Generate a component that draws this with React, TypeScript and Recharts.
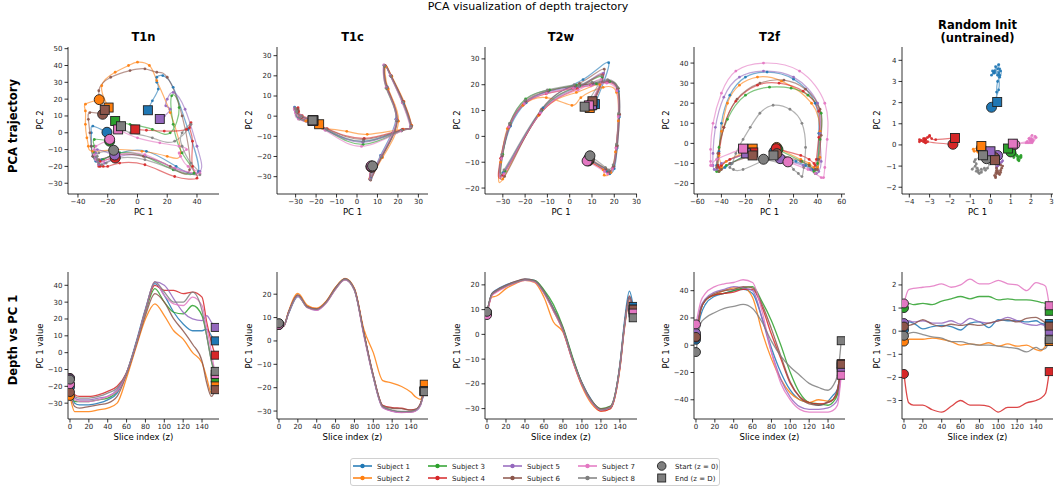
import React from "react";
import { ComposedChart, Line, Scatter, XAxis, YAxis } from "recharts";

const SUBJECTS = ["Subject 1", "Subject 2", "Subject 3", "Subject 4", "Subject 5", "Subject 6", "Subject 7", "Subject 8"];
const COLORS = ["#1f77b4", "#ff7f0e", "#2ca02c", "#d62728", "#9467bd", "#8c564b", "#e377c2", "#7f7f7f"];
const MODALITIES = ["T1n", "T1c", "T2w", "T2f", "Random Init\n(untrained)"];

// slice indices the values were read at
const Z = [0, 5, 10, 20, 30, 40, 50, 60, 70, 80, 90, 100, 110, 120, 130, 140, 145, 150, 154];

// one row per subject
const T1N_PC1 = [
  [-20.5, -30, -31, -31, -30, -28, -24, -12, 6, 26, 41, 34, 24, 17, 13, 13, 14, 10, 7],
  [-25.7, -35, -35, -35, -34, -33, -30, -15, 3, 20, 29, 22, 13, 8, 0, -6, -15, -24, -19.4],
  [-18.7, -29, -29, -29, -28, -27, -23, -12, 5, 24, 38, 30, 24, 23, 28, 22, 10, -5, -15],
  [-15, -25, -26, -26, -25, -23, -20, -12, 5, 25, 40, 37, 37, 35, 36, 33, 18, 6, -1.5],
  [-15.3, -27, -28, -28, -27, -26, -22, -12, 5, 25, 42, 40, 32, 24, 20, 19, 22, 18, 15],
  [-23.4, -32, -33, -32, -31, -30, -26, -13, 4, 22, 35, 30, 20, 13, 5, -5, -18, -26, -22],
  [-18.7, -28, -29, -29, -28, -26, -23, -12, 5, 25, 42, 34, 29, 28, 33, 28, 15, 0, -13],
  [-16, -26, -27, -27, -26, -24, -21, -12, 5, 25, 42, 36, 30, 30, 36, 25, 10, -5, -11.1],
];
const T1N_PC2 = [
  [0.3, 4, 0, -8, -14, -17, -16, -12, -11, -20, -23, 2, 27, 34, 33, 30, 26, 19, 13.4],
  [19.7, 17, 13, 5, -3, -8, -11, -10, -11, -14, -12, 12, 31, 40, 42, 40, 36, 28, 15],
  [-5, -4, -8, -12, -15, -17, -16, -12, -14, -22, -24, -12, 5, 22, 15, 0, 2, 5, 7],
  [-15, -17, -19, -20, -20, -20, -20, -18, -19, -26, -27, -20, -5, 3, 6, 2, 1, 1.5, 2],
  [-13.2, -10, -12, -15, -17, -19, -18, -14, -14, -21, -23, -8, 14, 24, 20, 16, 14, 10, 8.2],
  [11, 12, 8, 0, -8, -14, -16, -13, -14, -20, -22, 10, 33, 36, 38, 37, 33, 25, 13.6],
  [-3.9, -8, -10, -13, -16, -18, -17, -13, -13, -21, -24, -20, -14, -12, -10, -8, -6, -3, 2],
  [-10.4, -12, -14, -16, -18, -19, -18, -15, -16, -22, -25, -18, -8, 0, 5, -5, -3, 0, 3.9],
];

const T1C_PC1 = [
  [7.2, 6.8, 11.5, 19, 14.8, 13.2, 16.8, 22.8, 26.2, 21.8, 3.2, -15.5, -28.5, -30, -30.5, -30.2, -29.8, -27.5, -21.6],
  [7.4, 6.2, 12.5, 20.3, 15.3, 14, 17, 23, 26.8, 22.5, 5, -5, -17, -18, -19.5, -22, -24, -25, -18.5],
  [7, 6.4, 11.8, 19.3, 14.3, 13.4, 16.3, 22.2, 26.3, 21.7, 3, -15.2, -28.2, -29.8, -30.4, -30.3, -29.6, -27.2, -21.4],
  [6.8, 6.6, 12.2, 19.6, 14.7, 13.7, 16.6, 22.6, 26.6, 22.2, 3.5, -14.6, -27.5, -28.5, -28.8, -29.5, -29.2, -26.8, -21.3],
  [7.1, 6.3, 11.9, 19.4, 14.4, 13.3, 16.4, 22.3, 26.4, 21.9, 2.8, -15.3, -28.3, -29.9, -30.6, -30.4, -29.7, -27.3, -21.5],
  [7.3, 6.7, 12.1, 19.7, 14.6, 13.6, 16.7, 22.7, 26.7, 22.1, 3.3, -14.8, -27.8, -28.8, -29, -29.6, -29.3, -26.9, -21.4],
  [6.9, 6.5, 11.7, 19.2, 14.2, 13.1, 16.2, 22.1, 26.1, 21.6, 2.2, -15.6, -28.6, -30.1, -30.7, -30.5, -29.9, -27.6, -21.7],
  [7.6, 6.6, 12, 19.5, 14.5, 13.5, 16.5, 22.5, 26.5, 22, 3, -15, -28, -29.6, -30.2, -30.1, -29.5, -27.1, -21.7],
];
const T1C_PC2 = [
  [-25.2, -31, -19.5, -1.5, 14.5, 25.3, 19.5, 6.5, -5.2, -6.8, -12.5, -6.8, -1.2, 2.5, 4.5, 3.8, 2.6, -0.2, -2.2],
  [-24.8, -31.2, -20.5, -2.5, 13.5, 24.6, 19.8, 7.2, -4.6, -6.5, -9, -7.5, -6, -5, -4, -3, -2, -2.5, -4],
  [-25, -31.4, -20.2, -2.2, 13.8, 24.8, 20.2, 6.8, -5.4, -7.3, -14, -6.8, -1.4, 1.8, 3.8, 3.2, 2.2, -0.3, -2.2],
  [-25.1, -31.6, -19.8, -1.8, 14.2, 25.2, 20, 7.3, -4.8, -6.6, -11, -6.2, -0.8, 2.2, 4.2, 3.6, 2.4, 0.2, -2],
  [-24.9, -31.3, -20.1, -2.1, 14.1, 25.1, 19.9, 6.9, -5.1, -7.1, -13, -6.6, -1.1, 2.1, 4.1, 3.4, 2.5, 0.1, -2.1],
  [-25.3, -31.7, -20.3, -2.3, 13.9, 24.9, 20.1, 7.1, -4.9, -6.9, -11.5, -6.4, -0.6, 2.8, 3.5, 2.5, 1.8, -0.5, -2.3],
  [-24.7, -31.2, -19.7, -1.7, 14.3, 25.4, 20.3, 6.6, -5.3, -7.4, -15, -7, -1.5, 1.6, 3.6, 3.1, 2.1, -0.4, -2.3],
  [-24.7, -31.5, -20, -2, 14, 25, 20, 7, -5, -7, -12.5, -6.5, -1, 2, 4, 3.5, 2.5, 0, -2.1],
];

const T2W_PC1 = [
  [8.6, 16.5, 18, 20, 21.3, 22.3, 21.8, 17.5, 10.5, 2.5, -9.5, -19.5, -26.5, -30.5, -29.8, -12, 6, 17.5, 11.3],
  [8.4, 15, 15.5, 18.5, 20.5, 21.8, 21, 15, 5, 1, -10.5, -21, -28, -31, -30, -14, 3, 13.5, 9],
  [8.7, 16.2, 17.6, 19.6, 21.1, 22, 21.8, 18, 12, 3, -9, -19.8, -26.8, -30, -29, -12.5, 4.5, 14.5, 9.8],
  [8.3, 15.8, 17.3, 19.4, 20.9, 22.1, 21.4, 16.8, 9.5, 1.5, -10.5, -20.5, -27.3, -31, -30, -13.5, 3.5, 14.8, 10.2],
  [8.5, 16.1, 17.7, 19.7, 21.2, 22.2, 21.6, 17.2, 10.2, 2.2, -9.8, -19.9, -26.9, -30.4, -29.4, -12.8, 4.2, 15.2, 10],
  [8.8, 16.3, 17.8, 19.8, 21.4, 22.4, 21.7, 17.3, 10.3, 2.3, -9.7, -19.7, -26.7, -30.2, -29.2, -12.6, 4.4, 15.5, 10.2],
  [7.8, 15.6, 17, 19.2, 20.8, 21.8, 21.2, 16.6, 9.6, 1.6, -10.4, -20.4, -27.4, -30.6, -29.6, -13.2, 3.8, 14, 8.6],
  [9.1, 16, 17.5, 19.5, 21, 22, 21.5, 17, 10, 2, -10, -20, -27, -30.5, -29.5, -13, 4, 14.5, 6.7],
];
const T2W_PC2 = [
  [-8.5, -13.5, -14.5, -12.5, -4.5, 7.5, 17.5, 21.5, 20.5, 19.5, 17.5, 13, 4, -8, -14, 11, 22, 28.5, 12.5],
  [-9.5, -13, -15, -14, -6, 6, 17, 19, 15, 12, 15, 12, 3, -10, -16.5, 8, 17, 20, 11],
  [-9.2, -12.5, -13.5, -11.5, -3.5, 8.5, 18.5, 21.2, 20.3, 19.8, 18, 14.5, 5, -7, -13.5, 10, 19.5, 23, 12],
  [-9.3, -13.2, -14.2, -12.2, -4.2, 8.2, 18.2, 21, 19.8, 18.6, 16.5, 12.5, 3.5, -8.5, -15, 8.5, 18.5, 24, 12.3],
  [-8.8, -12.8, -13.8, -11.8, -3.8, 8.3, 18.3, 21.3, 20.2, 19.2, 17.2, 13.2, 4.2, -7.8, -14.2, 9.5, 19.2, 24.5, 12.2],
  [-8.6, -12.6, -13.6, -11.6, -3.6, 8.6, 18.6, 21.6, 20.6, 19.6, 17.6, 13.6, 4.6, -7.6, -15.5, 10.5, 20.5, 26, 13.6],
  [-9.5, -13.6, -14.6, -12.6, -4.6, 7.6, 17.6, 20.6, 19.6, 18.6, 16.6, 12.6, 3.6, -8.6, -14.6, 9, 18, 22, 12],
  [-7.5, -12, -13, -11, -3, 9, 19, 22, 21, 20, 18, 14, 5, -7, -13, 10, 19.5, 23.5, 11.5],
];

const T2F_PC1 = [
  [4, 22, 30, 36, 38, 40, 41, 38, 20, -2, -20, -33, -40, -42, -44, -41, -37, -32, -16],
  [6, 26, 33, 37, 40, 42, 42, 35, 10, -10, -25, -35, -40, -42, -40, -41, -40, -36, -14],
  [7, 27, 33, 37, 38, 40, 42, 43, 32, 18, 0, -20, -35, -42, -43, -44, -42, -36, -15],
  [5.6, 26, 33, 37, 38, 39, 41, 41, 28, 8, -10, -28, -38, -42, -43, -42, -40, -33, -13.5],
  [8.9, 28, 34, 39, 41, 43, 42, 40, 20, -5, -25, -38, -45, -47, -47, -46, -44, -40, -19.4],
  [6.1, 26, 33, 38, 40, 41, 43, 42, 30, 12, -8, -27, -38, -43, -44, -42, -40, -33, -14],
  [15.3, 32, 38, 43, 45, 46, 48, 46, 25, -5, -28, -40, -47, -49, -49, -49, -48, -44, -22],
  [-5, 16, 20, 24, 27, 28.5, 30, 27, 17, 3, -8, -16, -22, -28, -31, -33, -30, -22, 3.3],
];
const T2F_PC2 = [
  [-4, -9, -11, -13, -13, -8, 5, 20, 32, 35.5, 33, 24, 10, -4, -11, -13, -12, -10, -4.5],
  [-2, -8, -10, -12, -12, -7, 6, 20, 31, 33, 29, 20, 6, -6, -11, -13, -12, -9, -2.6],
  [-3, -9, -11, -14, -15, -10, 2, 15, 24, 27.5, 28, 24, 12, -2, -11, -14, -14, -11, -5],
  [-2.6, -6, -8, -10, -11, -8, 3, 16, 26, 30, 29, 21, 8, -5, -11, -12, -11, -8, -4.5],
  [-7.6, -11, -13, -15, -14, -9, 5, 20, 33, 36, 33, 23, 8, -5, -11, -13, -13, -10, -5],
  [-5.1, -9, -11, -13, -13, -8, 4, 17, 27, 31.5, 30, 22, 8, -5, -12, -14, -13, -10, -6],
  [-9.2, -13, -15, -17, -17, -12, 2, 20, 36, 40, 36, 25, 10, -3, -9, -11, -11, -8, -2.6],
  [-7.9, -11, -13, -15, -16.5, -12, -2, 10, 17, 19, 15, 8, 2, -5, -10, -12, -13, -13, -6],
];

const RAND_PC1 = [
  [0.05, 0.4, 0.35, 0.1, 0.2, 0.25, 0.2, 0.05, 0.35, 0.4, 0.15, 0.5, 0.45, 0.45, 0.4, 0.45, 0.35, 0.3, 0.33],
  [-0.45, -0.35, -0.35, -0.35, -0.3, -0.35, -0.45, -0.6, -0.55, -0.6, -0.5, -0.65, -0.55, -0.65, -0.6, -0.8, -0.85, -0.65, -0.45],
  [1.0, 1.2, 1.15, 1.2, 1.15, 1.3, 1.4, 1.5, 1.4, 1.5, 1.5, 1.35, 1.4, 1.35, 1.35, 1.3, 1.25, 1.2, 0.86],
  [-1.85, -3.1, -3.2, -3.2, -3.4, -3.5, -3.25, -3.0, -3.2, -3.2, -3.25, -3.5, -3.3, -3.3, -3.1, -3.0, -2.9, -2.7, -1.75],
  [0.35, 0.45, 0.4, 0.45, 0.35, 0.35, 0.45, 0.3, 0.55, 0.4, 0.35, 0.45, 0.6, 0.45, 0.3, 0.25, 0.3, 0.2, 0.0],
  [0.2, 0.25, 0.3, 0.5, 0.3, 0.2, 0.3, 0.25, 0.3, 0.25, 0.35, 0.45, 0.5, 0.4, 0.55, 0.6, 0.5, 0.35, 0.22],
  [1.2, 1.8, 1.85, 1.9, 1.95, 2.05, 1.9, 2.0, 2.25, 2.05, 2.05, 2.2, 2.05, 2.0, 1.75, 2.1, 2.05, 1.95, 1.1],
  [-0.2, -0.1, -0.05, -0.15, -0.25, -0.3, -0.45, -0.45, -0.55, -0.6, -0.6, -0.65, -0.7, -0.75, -0.9, -0.7, -0.8, -0.75, -0.37],
];
const RAND_PC2 = [
  [1.78, 2.6, 3.3, 3.5, 3.4, 3.7, 3.5, 3.3, 3.6, 3.8, 3.4, 3.5, 3.2, 3.6, 3.4, 3.3, 3.0, 2.5, 2.03],
  [-0.15, -0.2, -0.1, -0.3, -0.2, -0.35, -0.25, -0.3, -0.15, -0.35, -0.25, -0.2, -0.4, -0.3, -0.2, -0.3, -0.2, -0.15, -0.05],
  [-0.33, -0.4, -0.5, -0.45, -0.6, -0.5, -0.7, -0.55, -0.75, -0.6, -0.5, -0.65, -0.55, -0.7, -0.6, -0.5, -0.45, -0.35, -0.17],
  [0.03, 0.15, 0.25, 0.1, 0.2, 0.15, 0.3, 0.45, 0.25, 0.1, 0.2, 0.25, 0.15, 0.3, 0.35, 0.4, 0.3, 0.25, 0.33],
  [-0.5, -0.6, -0.75, -0.9, -0.7, -1.0, -0.85, -1.05, -0.8, -0.95, -0.7, -0.9, -0.75, -0.6, -0.8, -0.65, -0.55, -0.45, -0.3],
  [-0.6, -0.9, -1.1, -1.3, -1.2, -1.45, -1.3, -1.55, -1.35, -1.5, -1.25, -1.4, -1.2, -1.35, -1.1, -1.0, -0.95, -0.85, -0.72],
  [0.02, 0.15, 0.1, 0.3, 0.2, 0.45, 0.3, 0.2, 0.35, 0.1, 0.25, 0.4, 0.15, 0.3, 0.1, 0.2, 0.15, 0.1, 0.06],
  [-0.65, -0.8, -0.9, -1.1, -1.2, -1.1, -1.3, -1.15, -1.35, -1.2, -1.3, -1.1, -1.25, -1.0, -1.15, -0.9, -0.8, -0.7, -0.49],
];

const PC1_SETS = [T1N_PC1, T1C_PC1, T2W_PC1, T2F_PC1, RAND_PC1];
const PC2_SETS = [T1N_PC2, T1C_PC2, T2W_PC2, T2F_PC2, RAND_PC2];

const TOP_X_DOMAINS = [[-46.7, 54.8], [-39.1, 34.7], [-38, 30.2], [-62.8, 62.8], [-4.36, 3.08]];
const TOP_Y_DOMAINS = [[-36.4, 51], [-38.6, 34.3], [-22.3, 34.6], [-25.2, 48], [-2.32, 4.63]];
const TOP_X_TICKS = [
  [-40, -20, 0, 20, 40],
  [-30, -20, -10, 0, 10, 20, 30],
  [-30, -20, -10, 0, 10, 20, 30],
  [-60, -40, -20, 0, 20, 40, 60],
  [-4, -3, -2, -1, 0, 1, 2, 3],
];
const TOP_Y_TICKS = [
  [-30, -20, -10, 0, 10, 20, 30, 40, 50],
  [-30, -20, -10, 0, 10, 20, 30],
  [-20, -10, 0, 10, 20, 30],
  [-20, -10, 0, 10, 20, 30, 40],
  [-2, -1, 0, 1, 2, 3, 4],
];
const BOT_X_DOMAIN = [-2.1, 158];
const BOT_X_TICKS = [0, 20, 40, 60, 80, 100, 120, 140];
const BOT_Y_DOMAINS = [[-39.4, 47.9], [-33.4, 29.5], [-34.2, 25.2], [-54.1, 53.7], [-3.8, 2.56]];
const BOT_Y_TICKS = [
  [-30, -20, -10, 0, 10, 20, 30, 40],
  [-30, -20, -10, 0, 10, 20],
  [-30, -20, -10, 0, 10, 20],
  [-40, -20, 0, 20, 40],
  [-3, -2, -1, 0, 1, 2],
];

const PANEL_LEFT = [68, 277, 485, 694, 902];
const PANEL_RIGHT = [219, 428, 637, 845, 1053];
const TOP_Y0 = 47;
const TOP_Y1 = 194;
const BOT_Y0 = 272;
const BOT_Y1 = 419;
const YLABEL_X = [41, 250, 458, 667, 878];

const FONT = "DejaVu Sans, sans-serif";
const YW = 32;
const XH = 20;
const MT = 4;
const MR = 8;

const fmt = (v: number) => (v < 0 ? `\u2212${Math.abs(v)}` : `${v}`);

const tickStyle = { fontSize: 7, fill: "#262626", fontFamily: FONT };
const axisStroke = { stroke: "#000", strokeWidth: 0.8 };

function startShape(color: string, r: number) {
  return (props: any) => (
    <circle cx={props.cx} cy={props.cy} r={r} fill={color} stroke="#222" strokeWidth={0.9} />
  );
}
function endShape(color: string, s: number) {
  return (props: any) => (
    <rect x={props.cx - s / 2} y={props.cy - s / 2} width={s} height={s} fill={color} stroke="#222" strokeWidth={0.9} />
  );
}

function Panel({ idx, row }: { idx: number; row: "top" | "bottom" }) {
  const top = row === "top";
  const y0 = top ? TOP_Y0 : BOT_Y0;
  const y1 = top ? TOP_Y1 : BOT_Y1;
  const w = PANEL_RIGHT[idx] - PANEL_LEFT[idx];
  const h = y1 - y0;
  const pc1 = PC1_SETS[idx];
  const pc2 = PC2_SETS[idx];
  const series = SUBJECTS.map((_, s) =>
    Z.map((z, i) => (top ? { x: pc1[s][i], y: pc2[s][i] } : { x: z, y: pc1[s][i] }))
  );
  const last = Z.length - 1;
  return (
    <div style={{ position: "absolute", left: PANEL_LEFT[idx] - YW, top: y0 - MT }}>
      <ComposedChart
        width={w + YW + MR}
        height={h + MT + XH}
        margin={{ top: MT, right: MR, bottom: 0, left: 0 }}
      >
        <XAxis
          type="number"
          dataKey="x"
          domain={top ? TOP_X_DOMAINS[idx] : BOT_X_DOMAIN}
          ticks={top ? TOP_X_TICKS[idx] : BOT_X_TICKS}
          allowDataOverflow
          height={XH}
          tickSize={3.5}
          tickMargin={2}
          tick={tickStyle}
          axisLine={axisStroke}
          tickLine={axisStroke}
          tickFormatter={fmt}
          interval={0}
        />
        <YAxis
          type="number"
          dataKey="y"
          domain={top ? TOP_Y_DOMAINS[idx] : BOT_Y_DOMAINS[idx]}
          ticks={top ? TOP_Y_TICKS[idx] : BOT_Y_TICKS[idx]}
          allowDataOverflow
          width={YW}
          tickSize={3.5}
          tickMargin={2}
          tick={tickStyle}
          axisLine={axisStroke}
          tickLine={axisStroke}
          tickFormatter={fmt}
          interval={0}
        />
        {series.map((d, s) => (
          <Line
            key={`l${s}`}
            data={d}
            dataKey="y"
            type={top ? "natural" : "monotone"}
            stroke={COLORS[s]}
            strokeWidth={top ? 1.2 : 1.3}
            strokeOpacity={top ? 0.6 : 0.85}
            dot={top ? { r: 1.4, fill: COLORS[s], stroke: "none", fillOpacity: 0.9 } : false}
            activeDot={false}
            isAnimationActive={false}
          />
        ))}
        {series.map((d, s) => (
          <Scatter
            key={`s${s}`}
            data={[d[0]]}
            shape={startShape(COLORS[s], top ? 5 : 4.5)}
            isAnimationActive={false}
          />
        ))}
        {series.map((d, s) => (
          <Scatter
            key={`e${s}`}
            data={[d[last]]}
            shape={endShape(COLORS[s], top ? 9 : 8)}
            isAnimationActive={false}
          />
        ))}
      </ComposedChart>
    </div>
  );
}

function Txt({ x, y, size, bold, rotate, children }: any) {
  return (
    <div
      style={{
        position: "absolute",
        left: x,
        top: y,
        transform: `translate(-50%, -50%)${rotate ? " rotate(-90deg)" : ""}`,
        fontSize: size,
        fontWeight: bold ? "bold" : "normal",
        whiteSpace: "pre",
        textAlign: "center",
        lineHeight: 1.15,
        color: "#000",
        fontFamily: FONT,
      }}
    >
      {children}
    </div>
  );
}

function Legend() {
  const L = 350;
  const T = 458;
  const cols = [353, 428, 503, 578];
  const rows = [466, 478];
  const fs = 7;
  return (
    <div
      style={{
        position: "absolute",
        left: L,
        top: T,
        width: 370,
        height: 28,
        border: "1px solid #d0d0d0",
        borderRadius: 3,
        boxSizing: "border-box",
      }}
    >
      <svg width={370} height={28} style={{ position: "absolute", left: -1, top: -1, overflow: "visible" }}>
        {SUBJECTS.map((name, s) => {
          const cx = cols[Math.floor(s / 2)] - L;
          const cy = rows[s % 2] - T;
          return (
            <g key={name}>
              <line x1={cx} x2={cx + 19} y1={cy} y2={cy} stroke={COLORS[s]} strokeWidth={1.5} />
              <circle cx={cx + 9.5} cy={cy} r={2.2} fill={COLORS[s]} />
              <text x={cx + 24} y={cy + 2.5} fontSize={fs} fontFamily={FONT} fill="#222">
                {name}
              </text>
            </g>
          );
        })}
        <circle cx={661.7 - L} cy={rows[0] - T} r={4.3} fill="#7f7f7f" stroke="#222" strokeWidth={0.9} />
        <text x={675 - L} y={rows[0] - T + 2.5} fontSize={fs} fontFamily={FONT} fill="#222">
          Start (z = 0)
        </text>
        <rect x={661.7 - L - 4} y={rows[1] - T - 4} width={8} height={8} fill="#7f7f7f" stroke="#222" strokeWidth={0.9} />
        <text x={675 - L} y={rows[1] - T + 2.5} fontSize={fs} fontFamily={FONT} fill="#222">
          End (z = D)
        </text>
      </svg>
    </div>
  );
}

export default function App() {
  const centers = PANEL_LEFT.map((l, i) => (l + PANEL_RIGHT[i]) / 2);
  return (
    <div
      style={{
        position: "absolute",
        left: 0,
        top: 0,
        width: 1056,
        height: 490,
        background: "#fff",
        fontFamily: FONT,
        overflow: "hidden",
      }}
    >
      <Txt x={528} y={7} size={11}>PCA visualization of depth trajectory</Txt>
      {MODALITIES.map((m, i) => (
        <Txt key={m} x={centers[i]} y={i === 4 ? 32 : 38} size={11.5} bold>
          {m}
        </Txt>
      ))}
      <Txt x={14} y={126} size={11.5} bold rotate>PCA trajectory</Txt>
      <Txt x={14} y={340} size={11.5} bold rotate>Depth vs PC 1</Txt>
      {MODALITIES.map((m, i) => (
        <React.Fragment key={`lab${m}`}>
          <Txt x={centers[i]} y={213} size={8.5}>PC 1</Txt>
          <Txt x={YLABEL_X[i]} y={120} size={8.5} rotate>PC 2</Txt>
          <Txt x={centers[i]} y={438} size={8.5}>Slice index (z)</Txt>
          <Txt x={YLABEL_X[i]} y={346} size={8.5} rotate>PC 1 value</Txt>
        </React.Fragment>
      ))}
      {MODALITIES.map((m, i) => (
        <Panel key={`t${m}`} idx={i} row="top" />
      ))}
      {MODALITIES.map((m, i) => (
        <Panel key={`b${m}`} idx={i} row="bottom" />
      ))}
      <Legend />
    </div>
  );
}
